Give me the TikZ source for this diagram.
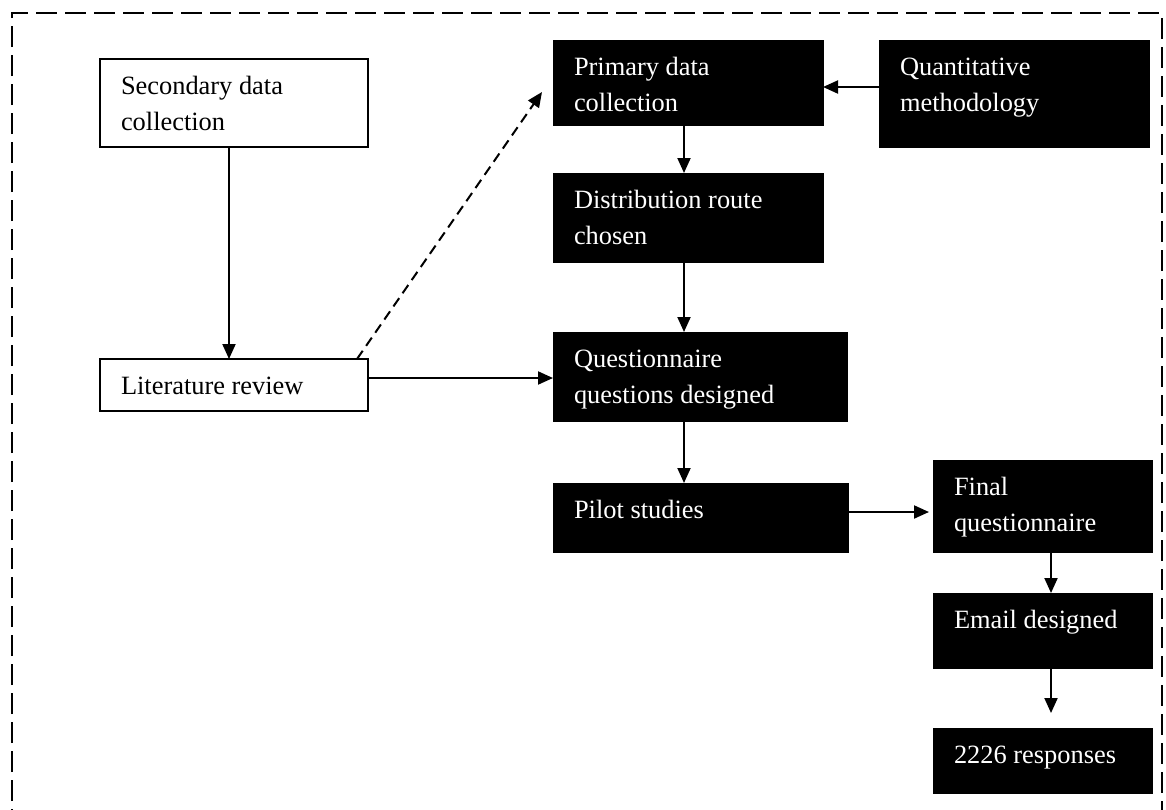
\documentclass[tikz,border=0pt]{standalone}
\usepackage{fontspec}
\setmainfont{Liberation Serif}
\usetikzlibrary{arrows.meta}
\newcommand{\bxtext}[3]{\parbox[t][#1][t]{#2}{\raggedright\rule{0pt}{35pt}#3}}
\tikzset{
  whitebox/.style={draw=black, line width=1.5pt, fill=white, inner xsep=21pt, inner ysep=0pt, anchor=north west, outer sep=0pt},
  blackbox/.style={draw=black, line width=0.8pt, fill=black, text=white, inner xsep=21pt, inner ysep=0pt, anchor=north west, outer sep=0pt},
  arr/.style={line width=2pt, -{Triangle[length=15pt,width=13pt]}},
  dasharr/.style={arr, dash pattern=on 10pt off 6pt},
  frame/.style={line width=2.2pt, dash pattern=on 21pt off 8pt}
}
\begin{document}
\begin{tikzpicture}[x=1pt,y=-1pt,font=\fontsize{26.4}{36}\selectfont]
\useasboundingbox (0,0) rectangle (1166,809);
\clip (0,0) rectangle (1166,809);
\draw[frame] (12,830) -- (12,13) -- (1162,13) -- (1162,830);

\node[whitebox] (sec) at (100,59) {\bxtext{88pt}{226pt}{Secondary data\\collection}};
\node[whitebox] (lit) at (100,359) {\bxtext{52pt}{226pt}{Literature review}};
\node[blackbox] (prim) at (553,40) {\bxtext{85pt}{228pt}{Primary data\\collection}};
\node[blackbox] (quant) at (879,40) {\bxtext{107pt}{228pt}{Quantitative\\methodology}};
\node[blackbox] (dist) at (553,173) {\bxtext{89pt}{228pt}{Distribution route\\chosen}};
\node[blackbox] (quest) at (553,332) {\bxtext{89pt}{252pt}{Questionnaire\\questions designed}};
\node[blackbox] (pilot) at (553,483) {\bxtext{69pt}{253pt}{Pilot studies}};
\node[blackbox] (final) at (933,460) {\bxtext{92pt}{177pt}{Final\\questionnaire}};
\node[blackbox] (email) at (933,593) {\bxtext{75pt}{177pt}{Email designed}};
\node[blackbox] (resp) at (933,728) {\bxtext{65pt}{177pt}{2226 responses}};

\coordinate (dashend) at (542,92);

\draw[arr] ([xshift=-5pt]sec.south) -- ([xshift=-5pt]lit.north);
\draw[dasharr] ([xshift=-11pt]lit.north east) -- (dashend);
\draw[arr] ([yshift=7pt]lit.east) -- ([yshift=7pt]lit.east -| quest.west);
\draw[arr] ([yshift=6.5pt]quant.west) -- ([yshift=6.5pt]quant.west -| prim.east);
\draw[arr] ([xshift=-4pt]prim.south) -- ([xshift=-4pt]dist.north);
\draw[arr] ([xshift=-4pt]dist.south) -- ([xshift=-4pt]dist.south |- quest.north);
\draw[arr] ([xshift=-16pt]quest.south) -- ([xshift=-16pt]quest.south |- pilot.north);
\draw[arr, shorten >=4pt] ([yshift=5.5pt]pilot.east) -- ([yshift=5.5pt]pilot.east -| final.west);
\draw[arr] ([xshift=8.5pt]final.south) -- ([xshift=8.5pt]email.north);
\draw[arr, shorten >=15pt] ([xshift=8.5pt]email.south) -- ([xshift=8.5pt]resp.north);
\end{tikzpicture}
\end{document}
